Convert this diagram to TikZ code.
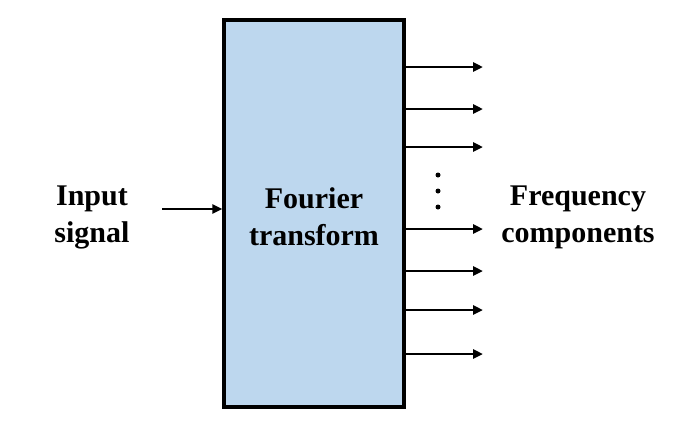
\documentclass[tikz,border=0pt]{standalone}
\usepackage{fontspec}
\setmainfont{Liberation Serif}
\usetikzlibrary{arrows.meta}
\definecolor{boxfill}{HTML}{BDD7EE}
\begin{document}
\begin{tikzpicture}[x=1pt,y=-1pt,
  lbl/.style={font=\fontsize{30}{37}\selectfont\bfseries, align=center, inner sep=0pt},
  arr/.style={line width=2.9pt, -{Triangle[length=10pt,width=9pt]}},
  dotc/.style={fill=black, circle, inner sep=0pt, minimum size=5pt}]
\useasboundingbox (0,0) rectangle (697,445);
\node[draw=black, line width=3.2pt, fill=boxfill, minimum width=180pt, minimum height=387pt, inner sep=0pt] (ft) at (314,213.5) {};
\node[lbl] (ftl) at (314,217) {Fourier\\transform};
\node[lbl] (inl) at (92,217) {Input\\signal};
\node[lbl] (outl) at (578,217) {Frequency\\components};
\coordinate (in) at (162,209);
\draw[arr] (in) -- (ft.west |- in);
\foreach \y/\n in {67/a,109/b,147/c,229/d,271/e,310/f,354/g}{
  \coordinate (s\n) at (ft.east |- 0,\y);
  \coordinate (e\n) at (483,\y);
  \draw[arr] (s\n) -- (e\n);
}
\node[dotc] (d1) at (438,175) {};
\node[dotc] (d2) at (438,191) {};
\node[dotc] (d3) at (438,207) {};
\end{tikzpicture}
\end{document}
